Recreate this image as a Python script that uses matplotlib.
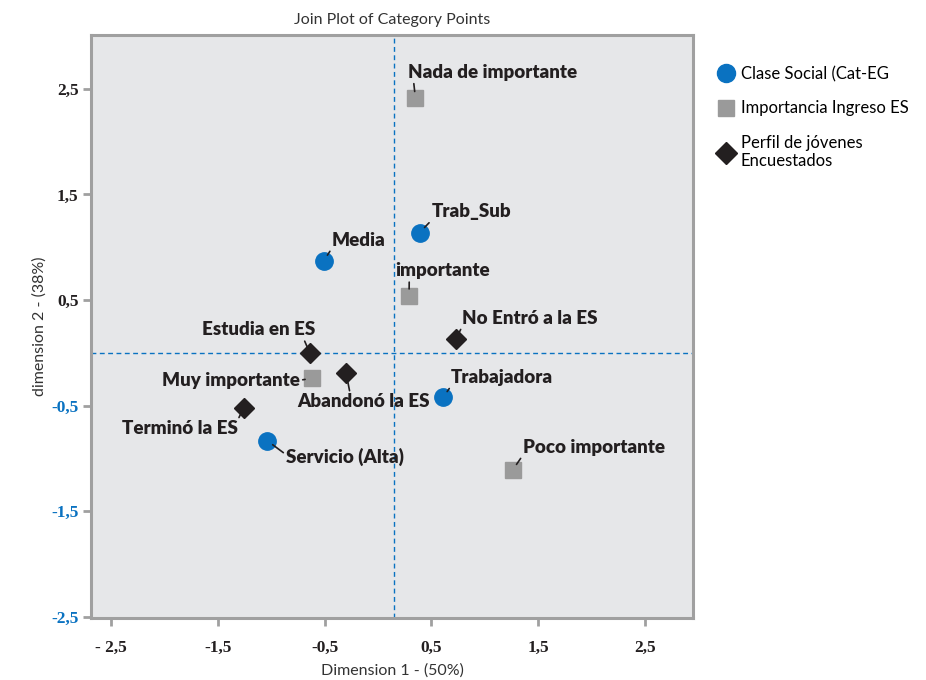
import matplotlib
matplotlib.use("Agg")
import matplotlib.pyplot as plt
from matplotlib.lines import Line2D

# Clase Social (Cat-EG)
clase_names = ["Trab_Sub", "Media", "Trabajadora", "Servicio (Alta)"]
clase_x = [0.39, -0.51, 0.61, -1.04]
clase_y = [1.14, 0.87, -0.42, -0.83]

# Importancia Ingreso ES
imp_names = ["Nada de importante", "importante", "Muy importante", "Poco importante"]
imp_x = [0.35, 0.29, -0.62, 1.26]
imp_y = [2.41, 0.54, -0.24, -1.11]

# Perfil de jóvenes Encuestados
perf_names = ["No Entró a la ES", "Estudia en ES", "Abandonó la ES", "Terminó la ES"]
perf_x = [0.73, -0.64, -0.30, -1.26]
perf_y = [0.13, 0.00, -0.19, -0.52]

ref_x = 0.15
ref_y = 0.0

xticks = [-2.5, -1.5, -0.5, 0.5, 1.5, 2.5]
xtick_labels = ["- 2,5", "-1,5", "-0,5", "0,5", "1,5", "2,5"]
yticks = [2.5, 1.5, 0.5, -0.5, -1.5, -2.5]
ytick_labels = ["2,5", "1,5", "0,5", "-0,5", "-1,5", "-2,5"]

# label placement: (dx, dy) in pixels, ha, relpos of leader line
label_pos = {
    "Nada de importante": (-7, 26, "left", (0.03, 0)),
    "Trab_Sub": (12, 21, "left", (0, 0)),
    "Media": (8, 21, "left", (0, 0)),
    "importante": (-14, 25, "left", (0.15, 0)),
    "No Entró a la ES": (6, 21, "left", (0, 0)),
    "Estudia en ES": (5, 23, "right", (0.9, 0)),
    "Muy importante": (-12, -2, "right", (1, 0.5)),
    "Abandonó la ES": (-49, -29, "left", (0.4, 1)),
    "Trabajadora": (8, 20, "left", (0, 0)),
    "Terminó la ES": (-6, -21, "right", (1, 1)),
    "Servicio (Alta)": (19, -16, "left", (0, 0.6)),
    "Poco importante": (10, 23, "left", (0, 0)),
}

blue = "#0a72c1"
grey = "#9a9a9a"
black = "#231f20"
sans = ["Lato", "DejaVu Sans"]
serif = ["Liberation Serif", "DejaVu Serif"]

fig = plt.figure(figsize=(9.26, 6.8), dpi=100)
ax = fig.add_axes([0.0983, 0.0912, 0.650, 0.8573])
ax.set_facecolor("#e6e7e9")
ax.set_xlim(-2.69, 2.95)
ax.set_ylim(-2.51, 3.01)

ax.axvline(ref_x, color=blue, lw=1, ls=(0, (3.5, 2.5)), zorder=1)
ax.axhline(ref_y, color=blue, lw=1, ls=(0, (3.5, 2.5)), zorder=1)

ax.plot(clase_x, clase_y, "o", ms=12.5, color=blue, mec=blue, ls="none", zorder=3)
ax.plot(imp_x, imp_y, "s", ms=11, color=grey, mec=grey, ls="none", zorder=3)
ax.plot(perf_x, perf_y, "D", ms=10.5, color=black, mec=black, ls="none", zorder=3)

for names, xs, ys in [(clase_names, clase_x, clase_y),
                      (imp_names, imp_x, imp_y),
                      (perf_names, perf_x, perf_y)]:
    for n, x, y in zip(names, xs, ys):
        dx, dy, ha, rp = label_pos[n]
        ax.annotate(n, (x, y), xytext=(dx, dy), textcoords="offset pixels",
                    ha=ha, va="center", fontsize=13.5, fontweight="heavy",
                    family=sans, color=black, zorder=4,
                    arrowprops=dict(arrowstyle="-", color=black, lw=1.2,
                                    shrinkA=0, shrinkB=5, relpos=rp))

for s in ax.spines.values():
    s.set_color("#a0a0a0")
    s.set_linewidth(2.2)

ax.set_xticks(xticks)
ax.set_xticklabels(xtick_labels)
ax.set_yticks(yticks)
ax.set_yticklabels(ytick_labels)
ax.tick_params(length=6, width=2, color="#a0a0a0")
ax.tick_params(axis="x", pad=10)
ax.tick_params(axis="y", pad=3)
for t in ax.get_xticklabels() + ax.get_yticklabels():
    t.set_family(serif)
    t.set_fontweight("bold")
    t.set_fontsize(12.5)
    t.set_color(black)
for t in ax.get_yticklabels():
    if t.get_text().startswith("-"):
        t.set_color(blue)

ax.set_title("Join Plot of Category Points", fontsize=11.5, family=sans,
             color="#333333", pad=8)
ax.set_xlabel("Dimension 1 - (50%)", fontsize=11.5, family=sans,
              color="#333333", labelpad=5)
ax.set_ylabel("dimension 2 - (38%)", fontsize=11.5, family=sans,
              color="#333333", labelpad=3)

handles = [
    Line2D([], [], marker="o", ls="none", ms=13, color=blue),
    Line2D([], [], marker="s", ls="none", ms=12, color=grey),
    Line2D([], [], marker="D", ls="none", ms=11, color=black),
]
labels = ["Clase Social (Cat-EG", "Importancia Ingreso ES",
          "Perfil de jóvenes\nEncuestados"]
fig.legend(handles, labels, loc="upper left", bbox_to_anchor=(0.757, 0.925),
           frameon=False, prop={"family": sans, "size": 12},
           handletextpad=0.3, labelspacing=1.1, handlelength=1.2)

fig.savefig("out.png", dpi=100)
